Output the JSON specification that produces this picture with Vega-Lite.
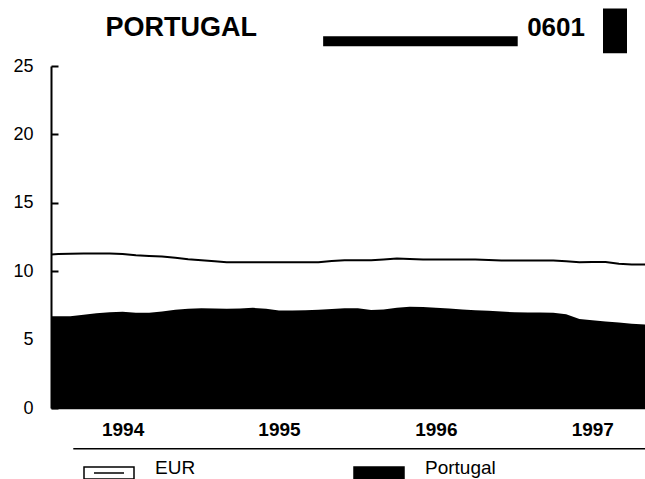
{
  "$schema": "https://vega.github.io/schema/vega-lite/v6.json",
  "width": 594,
  "height": 342,
  "autosize": "none",
  "padding": {"left": 51, "top": 66, "right": 0, "bottom": 71},
  "background": "white",
  "config": {"view": {"stroke": null}, "font": "Liberation Sans"},
  "datasets": {
    "series": [
      {"date": "1994-01-15", "series": "EUR", "value": 11.22},
      {"date": "1994-02-01", "series": "EUR", "value": 11.25},
      {"date": "1994-03-01", "series": "EUR", "value": 11.28},
      {"date": "1994-04-01", "series": "EUR", "value": 11.3},
      {"date": "1994-05-01", "series": "EUR", "value": 11.3},
      {"date": "1994-06-01", "series": "EUR", "value": 11.3},
      {"date": "1994-07-01", "series": "EUR", "value": 11.25},
      {"date": "1994-08-01", "series": "EUR", "value": 11.17},
      {"date": "1994-09-01", "series": "EUR", "value": 11.12},
      {"date": "1994-10-01", "series": "EUR", "value": 11.07},
      {"date": "1994-11-01", "series": "EUR", "value": 10.98},
      {"date": "1994-12-01", "series": "EUR", "value": 10.88},
      {"date": "1995-01-01", "series": "EUR", "value": 10.8},
      {"date": "1995-02-01", "series": "EUR", "value": 10.72},
      {"date": "1995-03-01", "series": "EUR", "value": 10.66},
      {"date": "1995-04-01", "series": "EUR", "value": 10.66},
      {"date": "1995-05-01", "series": "EUR", "value": 10.66},
      {"date": "1995-06-01", "series": "EUR", "value": 10.66},
      {"date": "1995-07-01", "series": "EUR", "value": 10.66},
      {"date": "1995-08-01", "series": "EUR", "value": 10.66},
      {"date": "1995-09-01", "series": "EUR", "value": 10.66},
      {"date": "1995-10-01", "series": "EUR", "value": 10.66},
      {"date": "1995-11-01", "series": "EUR", "value": 10.75},
      {"date": "1995-12-01", "series": "EUR", "value": 10.8},
      {"date": "1996-01-01", "series": "EUR", "value": 10.8},
      {"date": "1996-02-01", "series": "EUR", "value": 10.8},
      {"date": "1996-03-01", "series": "EUR", "value": 10.85},
      {"date": "1996-04-01", "series": "EUR", "value": 10.92},
      {"date": "1996-05-01", "series": "EUR", "value": 10.9},
      {"date": "1996-06-01", "series": "EUR", "value": 10.86},
      {"date": "1996-07-01", "series": "EUR", "value": 10.86},
      {"date": "1996-08-01", "series": "EUR", "value": 10.86},
      {"date": "1996-09-01", "series": "EUR", "value": 10.86},
      {"date": "1996-10-01", "series": "EUR", "value": 10.86},
      {"date": "1996-11-01", "series": "EUR", "value": 10.82},
      {"date": "1996-12-01", "series": "EUR", "value": 10.78},
      {"date": "1997-01-01", "series": "EUR", "value": 10.78},
      {"date": "1997-02-01", "series": "EUR", "value": 10.78},
      {"date": "1997-03-01", "series": "EUR", "value": 10.78},
      {"date": "1997-04-01", "series": "EUR", "value": 10.78},
      {"date": "1997-05-01", "series": "EUR", "value": 10.72},
      {"date": "1997-06-01", "series": "EUR", "value": 10.66},
      {"date": "1997-07-01", "series": "EUR", "value": 10.68},
      {"date": "1997-08-01", "series": "EUR", "value": 10.68},
      {"date": "1997-09-01", "series": "EUR", "value": 10.55},
      {"date": "1997-10-01", "series": "EUR", "value": 10.49},
      {"date": "1997-11-01", "series": "EUR", "value": 10.49},
      {"date": "1994-01-15", "series": "Portugal", "value": 6.71},
      {"date": "1994-02-01", "series": "Portugal", "value": 6.71},
      {"date": "1994-03-01", "series": "Portugal", "value": 6.71},
      {"date": "1994-04-01", "series": "Portugal", "value": 6.82},
      {"date": "1994-05-01", "series": "Portugal", "value": 6.92},
      {"date": "1994-06-01", "series": "Portugal", "value": 7.0},
      {"date": "1994-07-01", "series": "Portugal", "value": 7.03},
      {"date": "1994-08-01", "series": "Portugal", "value": 6.97},
      {"date": "1994-09-01", "series": "Portugal", "value": 6.96},
      {"date": "1994-10-01", "series": "Portugal", "value": 7.05},
      {"date": "1994-11-01", "series": "Portugal", "value": 7.18},
      {"date": "1994-12-01", "series": "Portugal", "value": 7.25},
      {"date": "1995-01-01", "series": "Portugal", "value": 7.3},
      {"date": "1995-02-01", "series": "Portugal", "value": 7.28},
      {"date": "1995-03-01", "series": "Portugal", "value": 7.25},
      {"date": "1995-04-01", "series": "Portugal", "value": 7.28},
      {"date": "1995-05-01", "series": "Portugal", "value": 7.32},
      {"date": "1995-06-01", "series": "Portugal", "value": 7.25},
      {"date": "1995-07-01", "series": "Portugal", "value": 7.13},
      {"date": "1995-08-01", "series": "Portugal", "value": 7.13},
      {"date": "1995-09-01", "series": "Portugal", "value": 7.15},
      {"date": "1995-10-01", "series": "Portugal", "value": 7.18},
      {"date": "1995-11-01", "series": "Portugal", "value": 7.23},
      {"date": "1995-12-01", "series": "Portugal", "value": 7.3},
      {"date": "1996-01-01", "series": "Portugal", "value": 7.3},
      {"date": "1996-02-01", "series": "Portugal", "value": 7.17},
      {"date": "1996-03-01", "series": "Portugal", "value": 7.2},
      {"date": "1996-04-01", "series": "Portugal", "value": 7.32},
      {"date": "1996-05-01", "series": "Portugal", "value": 7.4},
      {"date": "1996-06-01", "series": "Portugal", "value": 7.38},
      {"date": "1996-07-01", "series": "Portugal", "value": 7.33},
      {"date": "1996-08-01", "series": "Portugal", "value": 7.28},
      {"date": "1996-09-01", "series": "Portugal", "value": 7.2},
      {"date": "1996-10-01", "series": "Portugal", "value": 7.14},
      {"date": "1996-11-01", "series": "Portugal", "value": 7.1},
      {"date": "1996-12-01", "series": "Portugal", "value": 7.05},
      {"date": "1997-01-01", "series": "Portugal", "value": 7.0},
      {"date": "1997-02-01", "series": "Portugal", "value": 6.99},
      {"date": "1997-03-01", "series": "Portugal", "value": 6.98},
      {"date": "1997-04-01", "series": "Portugal", "value": 6.96},
      {"date": "1997-05-01", "series": "Portugal", "value": 6.85},
      {"date": "1997-06-01", "series": "Portugal", "value": 6.5},
      {"date": "1997-07-01", "series": "Portugal", "value": 6.42},
      {"date": "1997-08-01", "series": "Portugal", "value": 6.32},
      {"date": "1997-09-01", "series": "Portugal", "value": 6.25},
      {"date": "1997-10-01", "series": "Portugal", "value": 6.16},
      {"date": "1997-11-01", "series": "Portugal", "value": 6.1}
    ]
  },
  "layer": [
    {
      "data": {"name": "series"},
      "transform": [{"filter": "datum.series === 'Portugal'"}],
      "mark": {"type": "area", "clip": true},
      "encoding": {
        "x": {
          "field": "date",
          "type": "temporal",
          "scale": {"domain": [{"year": 1994, "month": 1, "date": 15}, {"year": 1997, "month": 11, "date": 1}]},
          "axis": {
            "title": null,
            "values": [{"year": 1994, "month": 7, "date": 1}, {"year": 1995, "month": 7, "date": 1}, {"year": 1996, "month": 7, "date": 1}, {"year": 1997, "month": 7, "date": 1}],
            "format": "%Y",
            "ticks": false,
            "grid": false,
            "domain": true,
            "domainColor": "black",
            "domainWidth": 1.5,
            "labelFont": "Liberation Sans",
            "labelFontWeight": "bold",
            "labelFontSize": 19,
            "labelColor": "black",
            "labelPadding": 12
          }
        },
        "y": {
          "field": "value",
          "type": "quantitative",
          "scale": {"domain": [0, 25], "nice": false},
          "axis": {
            "title": null,
            "values": [0, 5, 10, 15, 20, 25],
            "grid": false,
            "domainColor": "black",
            "domainWidth": 2,
            "tickColor": "black",
            "tickWidth": 2,
            "tickSize": -7,
            "labelFont": "Liberation Sans",
            "labelFontSize": 18,
            "labelColor": "black",
            "labelPadding": 25
          }
        },
        "fill": {
          "field": "series",
          "type": "nominal",
          "scale": {"domain": ["EUR", "Portugal"], "range": ["white", "black"]},
          "legend": {
            "orient": "none",
            "legendX": 32,
            "legendY": 381,
            "direction": "horizontal",
            "title": null,
            "symbolType": "M-1,-0.24H1V0.24H-1Z M-0.6,0H0.6",
            "symbolSize": 2500,
            "symbolStrokeColor": "black",
            "symbolStrokeWidth": 1.5,
            "symbolOpacity": 1,
            "labelFont": "Liberation Sans",
            "labelFontSize": 19,
            "labelColor": "black",
            "labelOffset": 20,
            "labelBaseline": "alphabetic",
            "columnPadding": 155,
            "encode": {
              "symbols": {"update": {"stroke": {"value": "black"}, "strokeWidth": {"value": 1.5}}},
              "labels": {"update": {"dy": {"value": 1}}}
            }
          }
        }
      }
    },
    {
      "data": {"name": "series"},
      "transform": [{"filter": "datum.series === 'EUR'"}],
      "mark": {"type": "line", "stroke": "black", "strokeWidth": 2, "clip": true},
      "encoding": {
        "x": {"field": "date", "type": "temporal"},
        "y": {"field": "value", "type": "quantitative"}
      }
    },
    {
      "data": {"values": [{}]},
      "mark": {"type": "rule", "stroke": "black", "strokeWidth": 1.5},
      "encoding": {
        "x": {"datum": {"year": 1994, "month": 3, "date": 8}, "type": "temporal"},
        "x2": {"datum": {"year": 1997, "month": 11, "date": 1}},
        "y": {"datum": -2.97, "type": "quantitative"}
      }
    },
    {
      "data": {"values": [{}]},
      "mark": {"type": "rect", "fill": "black"},
      "encoding": {
        "x": {"datum": {"year": 1995, "month": 10, "date": 12}, "type": "temporal"},
        "x2": {"datum": {"year": 1997, "month": 1, "date": 8}},
        "y": {"datum": 27.17, "type": "quantitative"},
        "y2": {"datum": 26.44}
      }
    },
    {
      "data": {"values": [{}]},
      "mark": {"type": "rect", "fill": "black"},
      "encoding": {
        "x": {"datum": {"year": 1997, "month": 7, "date": 26}, "type": "temporal"},
        "x2": {"datum": {"year": 1997, "month": 9, "date": 20}},
        "y": {"datum": 29.2, "type": "quantitative"},
        "y2": {"datum": 25.93}
      }
    },
    {
      "data": {"values": [{"label": "PORTUGAL"}]},
      "mark": {"type": "text", "align": "left", "baseline": "alphabetic", "font": "Liberation Sans", "fontSize": 27, "fontWeight": "bold", "color": "black"},
      "encoding": {
        "x": {"datum": {"year": 1994, "month": 5, "date": 22}, "type": "temporal"},
        "y": {"datum": 27.17, "type": "quantitative"},
        "text": {"field": "label"}
      }
    },
    {
      "data": {"values": [{"label": "0601"}]},
      "mark": {"type": "text", "align": "left", "baseline": "alphabetic", "font": "Liberation Sans", "fontSize": 26, "fontWeight": "bold", "color": "black"},
      "encoding": {
        "x": {"datum": {"year": 1997, "month": 1, "date": 30}, "type": "temporal"},
        "y": {"datum": 27.17, "type": "quantitative"},
        "text": {"field": "label"}
      }
    }
  ]
}
